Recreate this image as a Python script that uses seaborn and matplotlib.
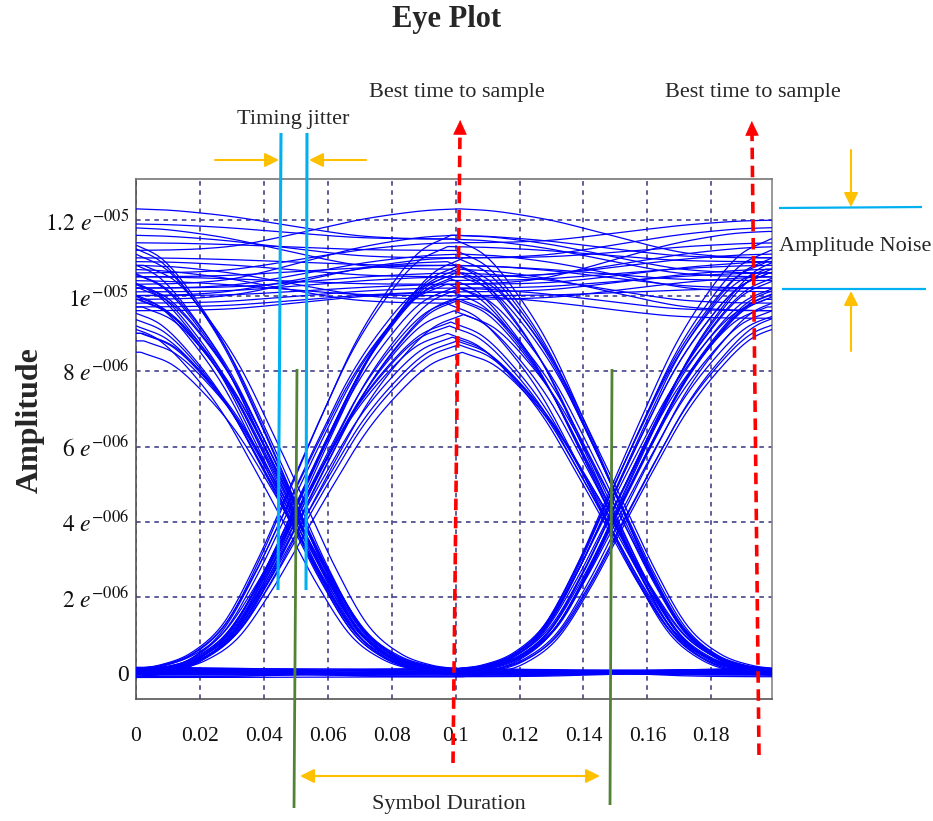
import numpy as np
import pandas as pd
import matplotlib
matplotlib.use("Agg")
import matplotlib.pyplot as plt
from matplotlib.lines import Line2D
from matplotlib.patches import FancyArrowPatch
import seaborn as sns

# ---------------- data (amplitudes in units of 1e-6) ----------------
symbol_times = [0.0, 0.1, 0.2]
# transition profile read from the rising edge (fraction of swing vs fraction of symbol)
profile_u = [0.0, 0.1, 0.2, 0.3, 0.4, 0.5, 0.6, 0.7, 0.8, 0.9, 1.0]
profile_s = [0.0, 0.01, 0.04, 0.11, 0.25, 0.42, 0.59, 0.75, 0.87, 0.96, 1.0]

levels_000 = [[0.05, 0.0, 0.05], [-0.05, 0.05, 0.0], [0.1, 0.0, -0.05], [0.0, -0.08, 0.08],
              [0.12, 0.1, 0.0], [-0.1, 0.0, 0.1], [0.0, 0.12, -0.1], [0.08, -0.05, 0.12],
              [0.02, 0.03, -0.02], [-0.12, -0.1, 0.05], [0.15, 0.05, 0.1], [0.0, 0.0, 0.0]]
levels_001 = [[0.0, 0.0, 10.6], [0.1, 0.05, 10.2], [-0.05, 0.0, 9.5], [0.05, 0.1, 11.0],
              [0.0, -0.05, 10.0], [0.1, 0.0, 9.7], [-0.1, 0.05, 10.8], [0.0, 0.0, 10.4],
              [0.05, -0.1, 9.2], [0.0, 0.1, 11.5], [-0.05, 0.0, 10.1], [0.1, 0.05, 9.9]]
levels_010 = [[0.0, 9.2, 0.0], [0.05, 8.7, 0.1], [0.1, 9.5, 0.0], [-0.05, 8.9, 0.05],
              [0.0, 9.9, -0.05], [0.1, 9.0, 0.1], [0.0, 10.2, 0.0], [-0.1, 9.6, 0.05],
              [0.0, 8.5, 0.05], [0.05, 9.3, -0.05], [0.1, 8.8, 0.0], [-0.05, 10.5, 0.1]]
levels_011 = [[0.0, 10.4, 10.8], [0.05, 10.8, 10.2], [0.1, 11.0, 11.4], [-0.05, 10.2, 10.6],
              [0.0, 10.6, 9.8], [0.1, 11.3, 10.9], [0.0, 9.9, 10.5], [-0.05, 10.5, 11.1],
              [0.0, 10.0, 10.2], [0.1, 11.6, 11.0], [-0.1, 10.7, 9.6], [0.05, 10.3, 11.7]]
levels_100 = [[9.6, 0.0, 0.0], [10.2, 0.05, 0.0], [8.8, 0.1, 0.05], [10.6, 0.0, 0.1],
              [9.2, -0.05, 0.0], [10.9, 0.1, 0.0], [8.5, 0.0, 0.05], [10.0, 0.05, -0.05],
              [9.0, 0.0, 0.0], [11.3, 0.05, 0.05], [9.9, -0.05, 0.1], [10.4, 0.1, -0.05]]
levels_101 = [[10.4, 0.0, 10.6], [9.9, 0.05, 10.1], [10.8, 0.1, 11.0], [9.4, 0.0, 9.6],
              [11.1, 0.05, 10.5], [10.1, 0.0, 10.9], [9.0, -0.05, 9.3], [10.6, 0.1, 10.2],
              [9.7, 0.0, 9.9], [11.4, 0.05, 11.2], [10.3, 0.1, 9.5], [9.2, 0.0, 10.7]]
levels_110 = [[10.5, 10.3, 0.0], [11.0, 10.8, 0.05], [10.2, 10.6, 0.1], [9.7, 10.1, 0.0],
              [11.4, 11.2, 0.05], [10.0, 10.9, -0.05], [10.8, 9.9, 0.0], [12.3, 11.5, 0.1],
              [10.1, 10.5, 0.05], [11.8, 10.7, 0.0], [9.9, 11.0, 0.1], [10.7, 9.8, -0.05]]
levels_111 = [[10.5, 10.8, 10.4], [11.2, 12.3, 11.0], [10.0, 10.3, 10.9], [11.6, 11.0, 11.8],
              [10.3, 11.6, 10.6], [9.8, 10.2, 9.6], [10.9, 10.5, 11.3], [10.6, 11.4, 12.0],
              [10.2, 11.1, 10.1], [11.9, 11.5, 10.5], [9.6, 10.1, 10.7], [10.4, 10.0, 9.4]]
# timing jitter of each trace (in 1e-3 time units), cycled over traces
jitter_ms = [-2.0, 1.0, 2.5, -1.0, 0.0, -2.5, 1.5, -0.5, 2.0, -1.5, 0.5, -3.0]

x_ticks = [0, 0.02, 0.04, 0.06, 0.08, 0.1, 0.12, 0.14, 0.16, 0.18]
x_tick_labels = ["0", "0.02", "0.04", "0.06", "0.08", "0.1", "0.12", "0.14", "0.16", "0.18"]
y_ticks = [0, 2e-6, 4e-6, 6e-6, 8e-6, 1e-5, 1.2e-5]
y_tick_labels = ["0", r"$2\ e^{-006}$", r"$4\ e^{-006}$", r"$6\ e^{-006}$", r"$8\ e^{-006}$",
                 r"$1e^{-005}$", r"$1.2\ e^{-005}$"]

# ---------------- build traces ----------------
pu = np.array(profile_u)
ps = np.array(profile_s)
slopes = np.gradient(ps, pu)


def shape(u):
    u = np.clip(u, 0, 1)
    i = np.clip(np.searchsorted(pu, u, side="right") - 1, 0, len(pu) - 2)
    h = pu[i + 1] - pu[i]
    s = (u - pu[i]) / h
    h00 = 2 * s**3 - 3 * s**2 + 1
    h10 = s**3 - 2 * s**2 + s
    h01 = -2 * s**3 + 3 * s**2
    h11 = s**3 - s**2
    return h00 * ps[i] + h10 * h * slopes[i] + h01 * ps[i + 1] + h11 * h * slopes[i + 1]


all_levels = (levels_000 + levels_001 + levels_010 + levels_011 +
              levels_100 + levels_101 + levels_110 + levels_111)
t = np.linspace(0, 0.199, 500)
T = symbol_times[1] - symbol_times[0]
rows = []
for n, lv in enumerate(all_levels):
    d = jitter_ms[n % len(jitter_ms)] * 1e-3
    k = np.clip(np.floor((t - d - symbol_times[0]) / T).astype(int), 0, len(lv) - 2)
    u = (t - d - np.array(symbol_times)[k]) / T
    a = np.array(lv)[k]
    b = np.array(lv)[k + 1]
    y = np.where(b >= a, a + (b - a) * shape(u), b + (a - b) * shape(1 - u))
    rows.append(pd.DataFrame({"t": t, "amp": y * 1e-6, "trace": n}))
df = pd.concat(rows, ignore_index=True)

# ---------------- figure ----------------
W, H = 933, 821
sns.set_theme(style="white")
plt.rcParams["font.family"] = ["Liberation Serif", "DejaVu Serif"]
plt.rcParams["mathtext.fontset"] = "stix"

fig = plt.figure(figsize=(W / 100, H / 100), dpi=100)
ax = fig.add_axes([136 / W, 1 - 699 / H, (772 - 136) / W, (699 - 179) / H])

sns.lineplot(data=df, x="t", y="amp", units="trace", estimator=None, color="#0000ff",
             lw=0.9, ax=ax, legend=False, zorder=3)

ax.set_xlim(0, 0.199)
ax.set_ylim(-0.69e-6, 13.09e-6)
ax.set_xticks(x_ticks)
ax.set_xticklabels(x_tick_labels, fontsize=15.5)
ax.set_yticks(y_ticks)
ax.set_yticklabels(y_tick_labels, fontsize=17)
ax.set_xlabel("")
ax.set_ylabel("")
ax.tick_params(axis="x", direction="out", length=4, width=1, color="#555555", pad=16, labelcolor="#111111")
ax.tick_params(axis="y", direction="out", length=2, width=1, color="#555555", pad=3, labelcolor="#111111")
ax.grid(True, color="#333380", linestyle=(0, (3, 3)), lw=1.1, zorder=1)
for s in ax.spines.values():
    s.set_color("#555555")
    s.set_linewidth(1.2)
ax.spines["right"].set_color("#888888")
ax.spines["top"].set_color("#777777")


def F(x, y):
    return (x / W, 1 - y / H)


def fline(p1, p2, color, lw, ls="-", z=5):
    (x1, y1), (x2, y2) = F(*p1), F(*p2)
    fig.add_artist(Line2D([x1, x2], [y1, y2], transform=fig.transFigure, color=color,
                          lw=lw, linestyle=ls, zorder=z, solid_capstyle="butt"))


def farrow(p1, p2, color, lw, style="-|>", hl=0.7, hw=0.35, ms=12, z=6):
    fig.add_artist(FancyArrowPatch(F(*p1), F(*p2), transform=fig.transFigure,
                                   arrowstyle=f"{style},head_length={hl},head_width={hw}",
                                   mutation_scale=ms, color=color, lw=lw, zorder=z,
                                   shrinkA=0, shrinkB=0))


orange = "#FFC000"
cyan = "#00B0F0"
green = "#548235"
red = "#FF0000"

# title and y label
fig.text(447 / W, 1 - 20 / H, "Eye Plot", ha="center", va="center", fontsize=22, fontweight="bold")
fig.text(30 / W, 1 - 420 / H, "Amplitude", ha="center", va="center", rotation=90,
         fontsize=23, fontweight="bold")

# best time to sample
fig.text(457 / W, 1 - 92 / H, "Best time to sample", ha="center", va="center", fontsize=16)
fig.text(753 / W, 1 - 92 / H, "Best time to sample", ha="center", va="center", fontsize=16)
red_dash = (0, (3.2, 1.8))
fline((453, 763), (460, 132), red, 2.6, red_dash, z=7)
farrow((460, 134), (460.2, 120), red, 0.5, hl=0.75, hw=0.35, ms=13, z=7)
fline((759, 755), (752, 132), red, 2.6, red_dash, z=7)
farrow((752, 134), (751.8, 121), red, 0.5, hl=0.75, hw=0.35, ms=13, z=7)

# timing jitter
fig.text(293 / W, 1 - 119 / H, "Timing jitter", ha="center", va="center", fontsize=16)
fline((281, 133), (278, 590), cyan, 2.2, z=6)
fline((307, 133), (306, 590), cyan, 2.2, z=6)
farrow((215, 160), (279, 160), orange, 1.5)
farrow((366, 160), (309, 160), orange, 1.5)

# symbol duration
fline((297, 369), (294, 808), green, 2.0, z=6)
fline((612, 369), (610, 805), green, 2.0, z=6)
farrow((300, 776), (600, 776), orange, 1.5, style="<|-|>")
fig.text(449 / W, 1 - 804 / H, "Symbol Duration", ha="center", va="center", fontsize=16)

# amplitude noise
fline((779, 208), (922, 207), cyan, 1.6, z=6)
fline((782, 289), (926, 289), cyan, 1.6, z=6)
farrow((851, 150), (851, 207), orange, 1.5)
farrow((851, 351), (851, 291), orange, 1.5)
fig.text(779 / W, 1 - 246 / H, "Amplitude Noise", ha="left", va="center", fontsize=16)

fig.savefig("out.png", dpi=100)
